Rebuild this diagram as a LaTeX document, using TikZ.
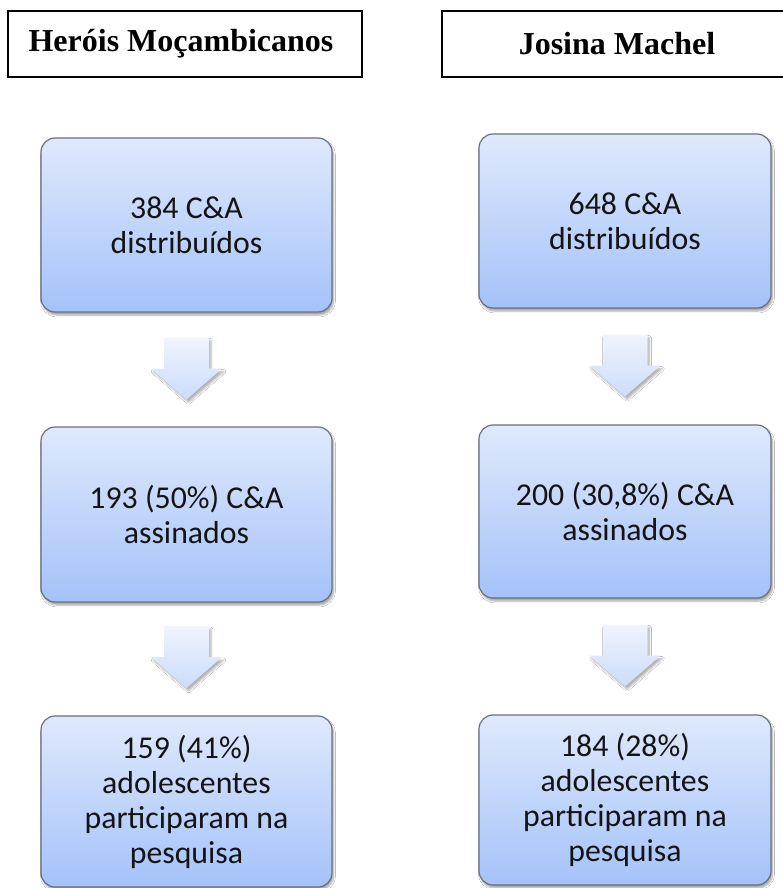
\documentclass[tikz,border=0pt]{standalone}
\usepackage{fontspec}
\setmainfont{Liberation Serif}
\newfontfamily\calib{Carlito}
\usetikzlibrary{calc,shadows.blur}
\definecolor{boxtop}{HTML}{DFE9FC}
\definecolor{boxbot}{HTML}{A4C2F9}
\definecolor{boxline}{HTML}{6A7080}
\definecolor{arrtop}{HTML}{EFF4FD}
\definecolor{arrbot}{HTML}{CCDCFB}
\definecolor{txt}{HTML}{141414}
\tikzset{
  titlebox/.style={draw=black, line width=1.3pt, inner sep=0pt, font=\bfseries\fontsize{32}{36}\selectfont},
  flowbox/.style={rounded corners=14pt, draw=boxline, line width=1.2pt,
    top color=boxtop, bottom color=boxbot, minimum width=291pt,
    align=center, text=txt, inner sep=0pt,
    font=\calib\fontsize{31.8}{35}\selectfont,
    blur shadow={shadow xshift=1.5pt, shadow yshift=-3pt, shadow blur steps=6, shadow opacity=35}},
  downarr/.pic={
    \shade[top color=arrtop, bottom color=arrbot,
      blur shadow={shadow xshift=2pt, shadow yshift=-3pt, shadow blur steps=6, shadow opacity=30}]
      (-22.5,-31) -- (22.5,-31) -- (22.5,0) -- (35.5,0) -- (0,31) -- (-35.5,0) -- (-22.5,0) -- cycle;
  }
}
\begin{document}
\begin{tikzpicture}[x=1pt,y=-1pt]
\useasboundingbox[fill=white] (0,0) rectangle (782,888);

% titles
\node[titlebox, minimum width=354pt, minimum height=66pt] (T1) at (185,44) {Heróis Moçambicanos\hspace*{8pt}};
\node[titlebox, minimum width=350pt, minimum height=66pt] (T2) at (617,44) {Josina Machel};

% left column
\node[flowbox, minimum height=174pt] (L1) at (186.5,225) {384 C\&A\\distribuídos};
\node[flowbox, minimum height=175pt] (L2) at (186.5,514.5) {193 (50\%) C\&A\\assinados};
\node[flowbox, minimum height=171pt] (L3) at (186.5,801.5) {159 (41\%)\\adolescentes\\participaram na\\pesquisa};

% right column
\node[flowbox, minimum height=174pt, minimum width=292pt] (R1) at (625,221) {648 C\&A\\distribuídos};
\node[flowbox, minimum height=173pt, minimum width=292pt] (R2) at (625,511.5) {200 (30,8\%) C\&A\\assinados};
\node[flowbox, minimum height=170pt, minimum width=292pt] (R3) at (625,800) {184 (28\%)\\adolescentes\\participaram na\\pesquisa};

% arrows
\path (L1.south) -- coordinate[midway] (mL1) (L2.north);
\path (L2.south) -- coordinate[midway] (mL2) (L3.north);
\path (R1.south) -- coordinate[midway] (mR1) (R2.north);
\path (R2.south) -- coordinate[midway] (mR2) (R3.north);
\pic at ($(mL1)+(0,-1)$) {downarr};
\pic at ($(mL2)+(0,-2)$) {downarr};
\pic at ($(mR1)+(0,-1)$) {downarr};
\pic at ($(mR2)+(0,-1)$) {downarr};
\end{tikzpicture}
\end{document}
